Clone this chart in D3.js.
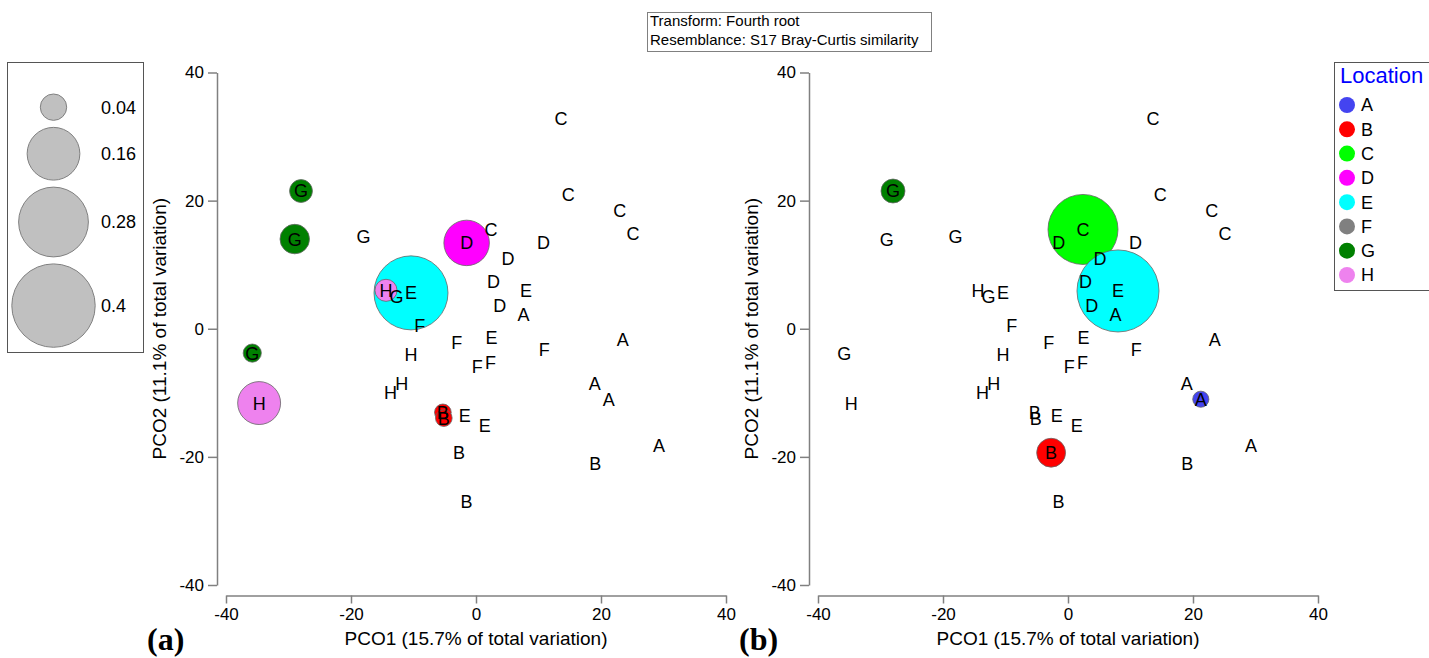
<!DOCTYPE html>
<html lang="en">
<head>
<meta charset="UTF-8">
<script src="https://d3js.org/d3.v7.min.js"></script>
<style>
    body{
        margin:0;
        background:#fff;
        font-family:Arial, "Liberation Sans", sans-serif;
    }
    .axis path, .axis line{
        stroke:#808080;
        stroke-width:1.5;
    }
    .axis text{
        fill:#000;
        font-size:17px;
        font-family:Arial, "Liberation Sans", sans-serif;
    }
    .lab{
        font-size:18px;
        fill:#000;
    }
    .bubble{
        stroke:#666;
        stroke-width:0.8;
    }
</style>
</head>
<body>
<svg id="chart" width="1429" height="658"></svg>
<script>
// sample locations, 5 replicates each
var locations = ["A", "B", "C", "D", "E", "F", "G", "H"];
var sampleLoc = ["A","A","A","A","A", "B","B","B","B","B", "C","C","C","C","C", "D","D","D","D","D",
                 "E","E","E","E","E", "F","F","F","F","F", "G","G","G","G","G", "H","H","H","H","H"];

// PCO scores
var pco1 = [7.6, 23.5, 19.0, 21.25, 29.3,
            -5.3, -5.15, -2.7, 19.1, -1.5,
            13.6, 14.75, 23.0, 25.1, 2.4,
            -1.5, 10.8, 5.1, 2.8, 3.8,
            -10.4, 8.0, 2.5, -1.8, 1.4,
            -9.0, -3.1, 10.9, 0.2, 2.3,
            -28.0, -29.0, -18.0, -12.7, -35.8,
            -14.4, -10.4, -11.9, -13.7, -34.7];
var pco2 = [2.2, -1.7, -8.5, -11.0, -18.2,
            -13.05, -13.95, -19.35, -21.1, -27.0,
            32.8, 20.9, 18.4, 14.8, 15.5,
            13.4, 13.5, 11.0, 7.4, 3.6,
            5.6, 5.9, -1.4, -13.5, -15.1,
            0.5, -2.1, -3.3, -5.9, -5.2,
            21.5, 14.0, 14.4, 5.0, -3.8,
            6.0, -4.0, -8.5, -9.9, -11.6];

// bubble values, panel (a) and panel (b)
var sizeA = [0, 0, 0, 0, 0,
             0.016, 0.016, 0, 0, 0,
             0, 0, 0, 0, 0,
             0.119, 0, 0, 0, 0,
             0.315, 0, 0, 0, 0,
             0, 0, 0, 0, 0,
             0.030, 0.050, 0, 0, 0.019,
             0.028, 0, 0, 0, 0.106];
var sizeB = [0, 0, 0, 0.015, 0,
             0, 0, 0.048, 0, 0,
             0, 0, 0, 0, 0.282,
             0, 0, 0, 0, 0,
             0, 0.387, 0, 0, 0,
             0, 0, 0, 0, 0,
             0.033, 0, 0, 0, 0,
             0, 0, 0, 0, 0];

var legendSizes = [0.04, 0.16, 0.28, 0.4];
var axisTicks = [-40, -20, 0, 20, 40];
var xTitle = "PCO1 (15.7% of total variation)";
var yTitle = "PCO2 (11.1% of total variation)";
var titleLines = ["Transform: Fourth root", "Resemblance: S17 Bray-Curtis similarity"];

var svg = d3.select("#chart");
var color = d3.scaleOrdinal(locations,
    ["#4444f0", "#ff0000", "#00ff00", "#ff00ff", "#00ffff", "#808080", "#008000", "#ee82ee"]);
var r = d3.scaleSqrt().domain([0, 0.4]).range([0, 41.7]);
var fmt = function(d) { return String(d); };   // plain hyphen minus like the original

var samples = sampleLoc.map(function(l, i) {
    return {loc: l, x: pco1[i], y: pco2[i], a: sizeA[i], b: sizeB[i]};
});

function panel(x0, key, tag) {
    var x = d3.scaleLinear().domain([-40, 40]).range([x0 + 9, x0 + 509]);
    var y = d3.scaleLinear().domain([-40, 40]).range([585, 72.5]);

    svg.append("g")
        .attr("class", "axis")
        .attr("transform", "translate(" + x0 + ",0)")
        .call(d3.axisLeft(y).tickValues(axisTicks).tickFormat(fmt).tickSize(9).tickSizeOuter(0).tickPadding(4));

    svg.append("g")
        .attr("class", "axis")
        .attr("transform", "translate(0,595.5)")
        .call(d3.axisBottom(x).tickValues(axisTicks).tickFormat(fmt).tickSize(8).tickSizeOuter(0).tickPadding(4));

    svg.selectAll(".bub" + key)
        .data(samples.filter(function(d) { return d[key] > 0; }))
        .enter().append("circle")
        .attr("class", "bubble")
        .attr("cx", function(d) { return x(d.x); })
        .attr("cy", function(d) { return y(d.y); })
        .attr("r", function(d) { return r(d[key]); })
        .attr("fill", function(d) { return color(d.loc); });

    svg.selectAll(".lab" + key)
        .data(samples)
        .enter().append("text")
        .attr("class", "lab")
        .attr("x", function(d) { return x(d.x); })
        .attr("y", function(d) { return y(d.y); })
        .attr("dy", "0.36em")
        .attr("text-anchor", "middle")
        .text(function(d) { return d.loc; });

    svg.append("text")
        .attr("x", (x.range()[0] + x.range()[1]) / 2)
        .attr("y", 645)
        .attr("text-anchor", "middle")
        .style("font-size", "19px")
        .text(xTitle);

    svg.append("text")
        .attr("transform", "translate(" + (x0 - 51) + "," + y(0) + ") rotate(-90)")
        .attr("text-anchor", "middle")
        .style("font-size", "19px")
        .text(yTitle);

    svg.append("text")
        .attr("x", x0 - 70)
        .attr("y", 650)
        .style("font-family", "'Times New Roman', 'Liberation Serif', serif")
        .style("font-weight", "bold")
        .style("font-size", "32px")
        .text(tag);
}

panel(217, "a", "(a)");
panel(809, "b", "(b)");

// title box
svg.append("rect")
    .attr("x", 647.5).attr("y", 12.5)
    .attr("width", 284).attr("height", 39)
    .attr("fill", "#fff").attr("stroke", "#808080");
svg.selectAll(".ttl").data(titleLines).enter().append("text")
    .attr("x", 650)
    .attr("y", function(d, i) { return 26 + i * 19; })
    .style("font-size", "15px")
    .text(function(d) { return d; });

// size legend
svg.append("rect")
    .attr("x", 7.5).attr("y", 62.5)
    .attr("width", 136).attr("height", 290)
    .attr("fill", "none").attr("stroke", "#555");
var cy = 94, legY = [];
legendSizes.forEach(function(v, i) {
    if (i > 0) cy += 7;
    legY.push(cy + r(v));
    cy += 2 * r(v);
});
var sizeLeg = svg.selectAll(".sleg").data(legendSizes).enter().append("g");
sizeLeg.append("circle")
    .attr("cx", 53.5)
    .attr("cy", function(d, i) { return legY[i]; })
    .attr("r", function(d) { return r(d); })
    .attr("fill", "#c0c0c0").attr("stroke", "#808080");
sizeLeg.append("text")
    .attr("x", 101)
    .attr("y", function(d, i) { return legY[i]; })
    .attr("dy", "0.36em")
    .style("font-size", "18px")
    .text(function(d) { return d; });

// location legend
svg.append("rect")
    .attr("x", 1334.5).attr("y", 62.5)
    .attr("width", 120).attr("height", 228)
    .attr("fill", "#fff").attr("stroke", "#555");
svg.append("text")
    .attr("x", 1340).attr("y", 83)
    .style("font-size", "22px").attr("fill", "#0000ff")
    .text("Location");
var locY = d3.scalePoint().domain(locations).range([105, 275]);
var locLeg = svg.selectAll(".lleg").data(locations).enter().append("g");
locLeg.append("circle")
    .attr("cx", 1347)
    .attr("cy", function(d) { return locY(d); })
    .attr("r", 8)
    .attr("fill", function(d) { return color(d); });
locLeg.append("text")
    .attr("x", 1361)
    .attr("y", function(d) { return locY(d); })
    .attr("dy", "0.36em")
    .style("font-size", "18px")
    .text(function(d) { return d; });
</script>
</body>
</html>
